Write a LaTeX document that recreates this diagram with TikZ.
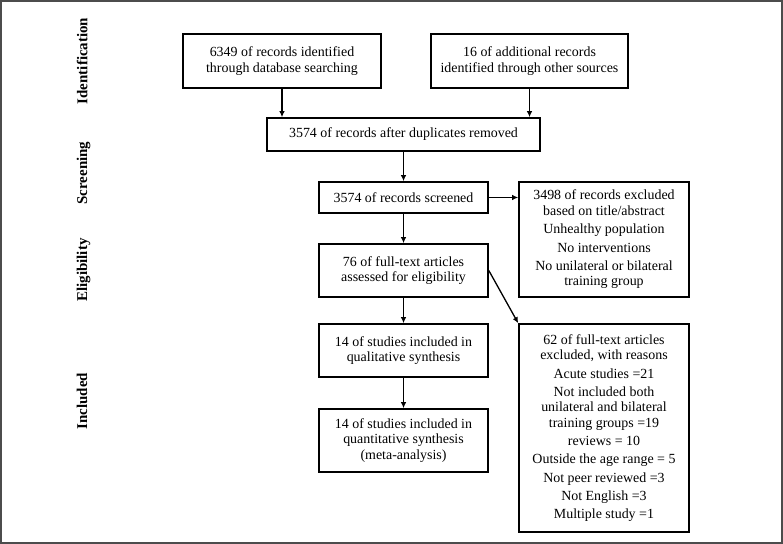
\documentclass[tikz,border=0pt]{standalone}
\usepackage{fontspec}
\setmainfont{Liberation Serif}
\usetikzlibrary{arrows.meta}

\tikzset{
    box/.style={draw, line width=1.6bp, align=center, inner sep=2bp, minimum width=169bp, font=\fontsize{14}{15.6}\selectfont},
    phase/.style={rotate=90, text depth=0pt, font=\fontsize{15}{15}\selectfont\bfseries},
    flow/.style={-{Latex[length=6bp,width=5.5bp]}, line width=1.3bp},
}

\begin{document}
\begin{tikzpicture}[x=1bp, y=-1bp]
    
    \useasboundingbox (0,0) rectangle (783,544);
    \draw[line width=1.5bp, color=black!70] (1,1) rectangle (782,543);
    
    \node[phase] (ident) at (82,61) {Identification};
    \node[phase] (screen) at (82,173) {Screening};
    \node[phase] (elig) at (82,270) {Eligibility};
    \node[phase] (incl) at (82,401) {Included};
    
    \node[box, minimum width=198bp, minimum height=54bp] (db) at (282,61) {6349 of records identified\\through database searching};
    \node[box, minimum width=197bp, minimum height=54bp] (other) at (529.5,61) {16 of additional records\\identified through other sources};
    \node[box, minimum width=273bp, minimum height=33bp] (dup) at (403.5,134.5) {3574 of records after duplicates removed};
    \node[box, minimum height=31bp] (screened) at (403.5,197.5) {3574 of records screened};
    \node[box, minimum width=170bp, minimum height=115bp] (exclA) at (604,239.5) {3498 of records excluded\\based on title/abstract\\[2.7bp]Unhealthy population\\[2.7bp]No interventions\\[2.7bp]No unilateral or bilateral\\training group};
    \node[box, minimum height=53bp] (full) at (403.5,270.5) {76 of full-text articles\\assessed for eligibility};
    \node[box, minimum height=53bp] (qual) at (403.5,350.5) {14 of studies included in\\qualitative synthesis};
    \node[box, minimum height=63bp] (quant) at (403.5,440.5) {14 of studies included in\\quantitative synthesis\\(meta-analysis)};
    \node[box, minimum width=170bp, minimum height=208bp] (exclB) at (604,428) {62 of full-text articles\\excluded, with reasons\\[2.7bp]Acute studies =21\\[2.7bp]Not included both\\unilateral and bilateral\\training groups =19\\[2.7bp]reviews = 10\\[2.7bp]Outside the age range = 5\\[2.7bp]Not peer reviewed =3\\[2.7bp]Not English =3\\[2.7bp]Multiple study =1};
    
    \draw[flow] (db.south) -- (db.south |- dup.north);
    \draw[flow] (other.south) -- (other.south |- dup.north);
    \draw[flow] (dup) -- (screened);
    \draw[flow] (screened.east) -- (screened.east -| exclA.west);
    \draw[flow] (screened) -- (full);
    \draw[flow] (full) -- (qual);
    \draw[flow] (qual) -- (quant);
    \draw[flow] (full.east) -- (exclB.north west);
   
\end{tikzpicture}
\end{document}
